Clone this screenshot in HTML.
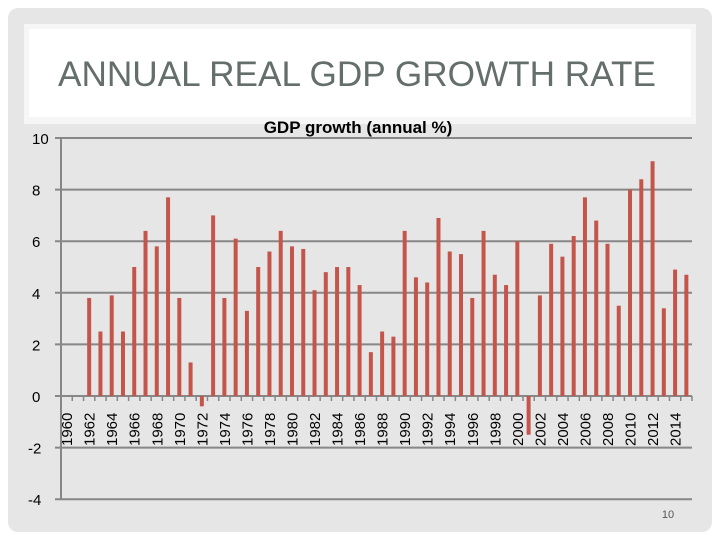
<!DOCTYPE html>
<html><head><meta charset="utf-8"><style>
body{margin:0;width:720px;height:540px;background:#fff;overflow:hidden;font-family:"Liberation Sans",sans-serif}
</style></head><body>
<svg width="720" height="540">
<rect x="8" y="8" width="704" height="524" rx="10" fill="#e6e6e6"/>
<rect x="24" y="24" width="672" height="100" fill="#f6f6f6"/>
<rect x="29" y="29" width="662" height="88" fill="#ffffff"/>
<text x="357" y="86" text-anchor="middle" font-size="35" textLength="598" lengthAdjust="spacingAndGlyphs" fill="#646e6a">ANNUAL REAL GDP GROWTH RATE</text>
<text x="358" y="133" text-anchor="middle" font-size="17" font-weight="bold" fill="#000">GDP growth (annual %)</text>
<g id="grid"></g><g id="bars"></g><g id="axes"></g>
<text x="668" y="518" text-anchor="middle" font-size="11" fill="#555">10</text>
</svg>
<script>
const years=[];for(let y=1960;y<=2015;y++)years.push(y);
const values=[null,null,3.8,2.5,3.9,2.5,5.0,6.4,5.8,7.7,3.8,1.3,-0.4,7.0,3.8,6.1,3.3,5.0,5.6,6.4,5.8,5.7,4.1,4.8,5.0,5.0,4.3,1.7,2.5,2.3,6.4,4.6,4.4,6.9,5.6,5.5,3.8,6.4,4.7,4.3,6.0,-1.5,3.9,5.9,5.4,6.2,7.7,6.8,5.9,3.5,8.0,8.4,9.1,3.4,4.9,4.7];
const yTicks=[10,8,6,4,2,0,-2,-4];
const NS='http://www.w3.org/2000/svg';
const X0=61,X1=692,Y0=396,PU=25.8;
const cw=(X1-X0)/years.length;
const xs=i=>X0+cw*(i+0.5);
const ys=v=>Y0-v*PU;
function mk(t,a,p){const e=document.createElementNS(NS,t);for(const k in a)e.setAttribute(k,a[k]);p.appendChild(e);return e;}
const grid=document.getElementById('grid'),bars=document.getElementById('bars'),axes=document.getElementById('axes');
yTicks.forEach(t=>{
 const l=mk('line',{x1:55,x2:X1,y1:ys(t),y2:ys(t),stroke:'#878787','stroke-width':2},grid);
 
 
 const tx=mk('text',{x:t<0?28:32,y:ys(t)+6,'font-size':15,fill:'#000'},grid);
 tx.textContent=t;
 
 
});
values.forEach((v,i)=>{
 if(v==null)return;
 const y=Math.min(ys(v),Y0),h=Math.abs(ys(v)-Y0);
 const r=mk('rect',{x:xs(i)-2,y:y,width:4,height:h,fill:'#c4554a'},bars);
 
 
});
const ax=mk('line',{x1:X0,x2:X0,y1:ys(10),y2:ys(-4),stroke:'#878787','stroke-width':2},axes);


years.forEach((yr,i)=>{
 const tk=mk('line',{x1:X0+cw*(i+1),x2:X0+cw*(i+1),y1:Y0,y2:Y0+5,stroke:'#878787','stroke-width':1.5},axes);
 
 
 if(yr%2===0){
  const t=mk('text',{x:0,y:0,'font-size':15,fill:'#000',transform:`translate(${xs(i)+5.5},446) rotate(-90)`},axes);
  t.textContent=yr;
  
  
 }
});
</script>
</body></html>
